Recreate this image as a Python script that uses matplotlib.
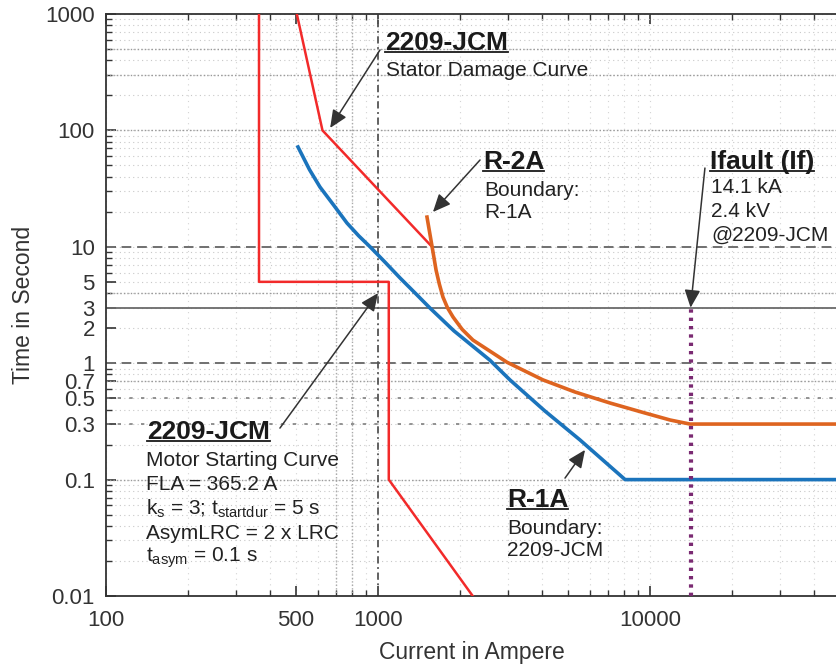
import numpy as np
import matplotlib
matplotlib.use('Agg')
import matplotlib.pyplot as plt
from matplotlib.ticker import LogLocator, NullFormatter
from matplotlib.lines import Line2D

plt.rcParams['font.family'] = ['Liberation Sans', 'DejaVu Sans']
plt.rcParams['mathtext.fontset'] = 'custom'
plt.rcParams['mathtext.rm'] = 'Liberation Sans'
plt.rcParams['mathtext.it'] = 'Liberation Sans:italic'

# -----------------------------------------------------------------------------
# data  (current in A, time in s)

motor_I = [365.2, 365.2, 1095.6, 1095.6, 2230]
motor_t = [1000, 5, 5, 0.1, 0.01]

stator_I = [503, 625, 1580]
stator_t = [1000, 100, 10]

r1a_I = [508, 560, 612, 690, 769, 850, 935, 1060, 1205, 1370, 1552,
         1900, 2580, 3057, 4100, 5530, 8100, 100000]
r1a_t = [72, 46, 32.6, 22.5, 16, 12.4, 10, 7.4, 5.4, 4.0, 2.98,
         1.9, 1.06, 0.718, 0.39, 0.219, 0.1, 0.1]

r2a_I = [1514, 1581, 1610, 1635, 1680, 1733, 1800, 1888, 2040, 2234, 2978,
         4045, 5297, 7127, 9594, 11860, 14030, 100000]
r2a_t = [18, 10, 7.8, 6.3, 4.8, 3.7, 3.0, 2.49, 1.95, 1.58, 1.02,
         0.718, 0.566, 0.455, 0.373, 0.325, 0.3, 0.3]

I_fault = 14100
t_fault = 3

x_ticks = [100, 500, 1000, 10000]
y_ticks = [0.01, 0.1, 0.3, 0.5, 0.7, 1, 2, 3, 5, 10, 100, 1000]

# reference lines
y_dashed = [10, 1]
y_solid = [3]
y_dotted = [500, 300, 100, 4, 0.7, 0.1]
y_sparse = [0.5, 0.3]
x_dashdot = [1000]
x_dotted = [700, 800]

# -----------------------------------------------------------------------------
# plot

W, H = 836, 671
fig = plt.figure(figsize=(W/100, H/100), dpi=100)
ax = fig.add_axes([106/W, 75/H, 730/W, 582/H])
ax.set_xscale('log')
ax.set_yscale('log')
ax.set_xlim(100, 10**(2 + 730/272))
ax.set_ylim(0.01, 1000)

# grid
ax.grid(which='both', axis='y', ls=(0, (1, 3)), color='#c8c8c8', lw=0.8)
ax.grid(which='both', axis='x', ls=(0, (1, 4)), color='#d4d4d4', lw=0.8)
for y in y_dotted:
    ax.axhline(y, ls=(0, (1, 1.5)), color='#9a9a9a', lw=1.0)
for y in y_sparse:
    ax.axhline(y, ls=(0, (2, 5)), color='#808080', lw=1.2)
for y in y_dashed:
    ax.axhline(y, ls=(0, (5, 3)), color='#707070', lw=1.4)
for y in y_solid:
    ax.axhline(y, ls='-', color='#6a6a6a', lw=1.3)
for x in x_dashdot:
    ax.axvline(x, ls=(0, (4, 2, 1, 2)), color='#555555', lw=1.3)
for x in x_dotted:
    ax.axvline(x, ls=(0, (1, 1.5)), color='#aaaaaa', lw=1.0)

# curves
ax.plot(motor_I, motor_t, color='#f22a2a', lw=1.8, zorder=5)
ax.plot(stator_I, stator_t, color='#f22a2a', lw=1.8, zorder=5)
ax.plot(r1a_I, r1a_t, color='#1b74bc', lw=2.6, zorder=6)
ax.plot(r2a_I, r2a_t, color='#de6420', lw=2.6, zorder=6)
ax.plot([I_fault, I_fault], [0.01, t_fault], color='#7a2a72',
        lw=3, ls=(0, (0.8, 1.2)), zorder=7)

# axes styling
ax.spines['right'].set_visible(False)
for s in ['left', 'bottom', 'top']:
    ax.spines[s].set_color('#333333')
    ax.spines[s].set_linewidth(1.3)
ax.set_xticks(x_ticks, labels=[str(v) for v in x_ticks])
ax.set_yticks(y_ticks, labels=[f'{v:g}' for v in y_ticks])
ax.xaxis.set_minor_locator(LogLocator(subs=np.arange(2, 10)))
ax.yaxis.set_minor_locator(LogLocator(subs=np.arange(2, 10)))
ax.xaxis.set_minor_formatter(NullFormatter())
ax.yaxis.set_minor_formatter(NullFormatter())
ax.tick_params(which='both', direction='in', top=True, right=False,
               color='#333333', labelcolor='#333333', labelsize=16)
ax.tick_params(which='major', length=7, width=1.2)
ax.tick_params(which='minor', length=4, width=1.0)
ax.tick_params(axis='x', pad=10)
ax.tick_params(axis='y', pad=8)

fig.text(472/W, 1 - 652/H, 'Current in Ampere', fontsize=16.5,
         color='#333333', ha='center', va='center')
fig.text(24/W, 1 - 305/H, 'Time in Second', fontsize=16.5, rotation=90,
         color='#333333', ha='center', va='center')

# -----------------------------------------------------------------------------
# annotations

def px(x, y):
    return x / W, 1 - y / H

notes = [
    # header, header pos, body lines, body left, first body y, body step
    ('2209-JCM', (385, 43), ['Stator Damage Curve'], 386, 70, 24),
    ('R-2A', (483, 162), ['Boundary:', 'R-1A'], 484, 190, 23),
    ('Ifault (If)', (710, 162), ['14.1 kA', '2.4 kV', '@2209-JCM'], 711, 188, 23.5),
    ('2209-JCM', (147, 432),
     ['Motor Starting Curve', 'FLA = 365.2 A',
      r'k$_\mathregular{s}$ = 3; t$_\mathregular{startdur}$ = 5 s',
      'AsymLRC = 2 x LRC', r't$_\mathregular{asym}$ = 0.1 s'], 146, 460, 24.5),
    ('R-1A', (507, 500), ['Boundary:', '2209-JCM'], 507, 528, 22.5),
]

headers = []
for head, (hx, hy), body, bx, by, step in notes:
    headers.append(fig.text(*px(hx, hy), head, fontsize=19, fontweight='bold',
                            color='#1a1a1a', ha='left', va='center'))
    for i, line in enumerate(body):
        fig.text(*px(bx, by + i*step), line, fontsize=15, color='#222222',
                 ha='left', va='center')

arrows = [
    # tail, tip (data coords)
    ((1017, 491), (667, 105)),
    ((2372, 55.7), (1592, 19.9)),
    ((15920, 47.5), (I_fault, t_fault)),
    ((436, 0.277), (1000, 4.0)),
    ((4870, 0.103), (5770, 0.18)),
]
for tail, tip in arrows:
    ax.annotate('', xy=tip, xytext=tail,
                arrowprops=dict(arrowstyle='-|>,head_length=0.9,head_width=0.4',
                                color='#333333', lw=1.1, shrinkA=0, shrinkB=0,
                                mutation_scale=12), zorder=8)

# underline the headers
fig.canvas.draw()
r = fig.canvas.get_renderer()
for t in headers:
    bb = t.get_window_extent(r).transformed(fig.transFigure.inverted())
    yl = bb.y0 + 0.14 * bb.height
    fig.add_artist(Line2D([bb.x0, bb.x1], [yl, yl], transform=fig.transFigure,
                          color='#1a1a1a', lw=1.3))

fig.savefig('out.png', dpi=100, facecolor='white')
